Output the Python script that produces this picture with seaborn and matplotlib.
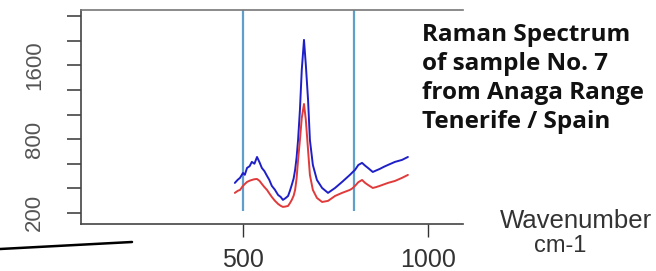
import numpy as np
import pandas as pd
import matplotlib
matplotlib.use("Agg")
import matplotlib.pyplot as plt
from matplotlib.lines import Line2D
import seaborn as sns

# values
wavenumber = [478, 486, 492, 500, 505, 511, 518, 524, 531, 538, 545, 551, 558, 565, 571,
              578, 586, 595, 602, 608, 615, 622, 627, 632, 637, 641, 645, 649, 654, 659,
              665, 670, 676, 681, 689, 700, 714, 730, 749, 768, 789, 796, 803, 812, 822,
              830, 838, 851, 860, 870, 881, 892, 911, 930, 946]
blue_counts = [444, 470, 485, 525, 510, 566, 580, 615, 600, 655, 610, 566, 540, 501, 470,
               420, 390, 346, 330, 306, 320, 338, 380, 428, 480, 550, 650, 793, 1037, 1363,
               1607, 1403, 1119, 793, 590, 468, 403, 363, 403, 452, 509, 530, 550, 590, 607,
               585, 566, 533, 545, 558, 575, 590, 615, 631, 655]
red_counts = [363, 380, 387, 420, 435, 452, 462, 468, 474, 476, 460, 436, 410, 387, 360,
              330, 300, 273, 258, 249, 252, 257, 280, 306, 340, 387, 480, 631, 793, 972,
              1086, 956, 712, 509, 387, 322, 289, 298, 338, 363, 387, 400, 420, 450, 468,
              445, 428, 403, 410, 420, 432, 444, 460, 485, 509]

marker_lines = [500, 800]
y_ticks = [200, 400, 600, 800, 1000, 1200, 1400, 1600, 1800]
y_labels = ["200", "", "", "800", "", "", "1600", "", ""]
x_ticks = [500, 1000]
title_lines = ["Raman Spectrum", "of sample No. 7", "from Anaga Range", "Tenerife / Spain"]

sns.set_theme(style="white")
plt.rcParams["font.family"] = ["Liberation Sans", "DejaVu Sans"]

df = pd.DataFrame({
    "wavenumber": wavenumber * 2,
    "counts": blue_counts + red_counts,
    "series": ["blue"] * len(wavenumber) + ["red"] * len(wavenumber),
})

fig = plt.figure(figsize=(6.56, 2.71), dpi=100)
ax = fig.add_axes([81 / 656, 47 / 271, 382 / 656, 214 / 271])

ax.vlines(marker_lines, 216, 1850, color="#5f9fc9", lw=1.6, zorder=1)
sns.lineplot(data=df, x="wavenumber", y="counts", hue="series", hue_order=["blue", "red"],
             palette={"blue": "#1f1fc8", "red": "#e03a3a"}, lw=1.4, legend=False, ax=ax, zorder=2)

ax.set_xlim(62, 1095)
ax.set_ylim(110, 1850)
ax.set_xlabel("")
ax.set_ylabel("")

ax.set_xticks(x_ticks)
ax.set_xticklabels([str(t) for t in x_ticks], fontsize=18, color="#333333")
ax.set_yticks(y_ticks)
ax.set_yticklabels(y_labels, fontsize=16, color="#555555", rotation=90, va="center")
ax.tick_params(axis="x", direction="out", length=9.5, width=1, color="#333333", pad=8, bottom=True)
ax.tick_params(axis="y", direction="out", length=10, width=1.2, color="#444444", pad=16, left=True)

ax.spines["right"].set_visible(False)
for side in ["left", "bottom", "top"]:
    ax.spines[side].set_color("#444444")
    ax.spines[side].set_linewidth(1.2)
ax.spines["top"].set_color("#777777")

for i, line in enumerate(title_lines):
    fig.text(422 / 656, 1 - (35 + i * 29) / 271, line, fontsize=17.5, fontweight="bold",
             family=["Open Sans", "DejaVu Sans"], color="#111111", ha="left", va="center")

fig.text(576 / 656, 1 - 221 / 271, "Wavenumber", fontsize=18.5, color="#333333", ha="center", va="center")
fig.text(560 / 656, 1 - 246 / 271, "cm-1", fontsize=17, color="#333333", ha="center", va="center")

fig.add_artist(Line2D([0, 132 / 656], [1 - 249 / 271, 1 - 242 / 271], transform=fig.transFigure,
                      color="black", lw=1.8))

fig.savefig("out.png", dpi=100, facecolor="white")
